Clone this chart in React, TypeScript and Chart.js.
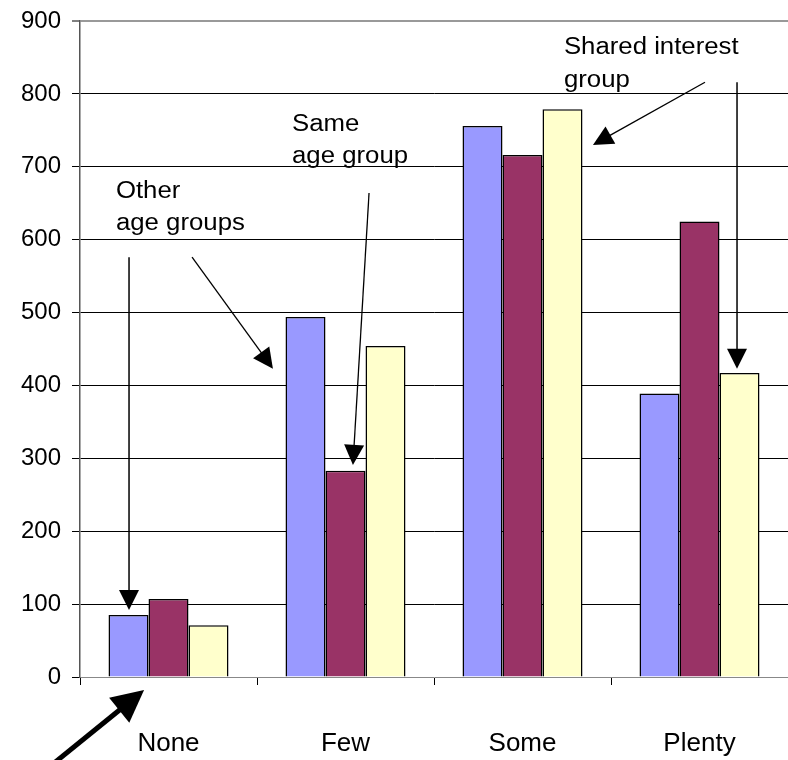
import React, { useEffect, useRef } from 'react';
import { Chart, registerables } from 'chart.js';

Chart.register(...registerables);

// ---- data ----
const categories = ['None', 'Few', 'Some', 'Plenty'];
const otherAgeGroups = [85, 494, 756, 389];
const sameAgeGroup = [107, 283, 716, 625];
const sharedInterestGroup = [71, 454, 779, 417];
const yMin = 0;
const yMax = 900;
const yStep = 100;

// ---- annotations (x in category units, y in value units) ----
const noteTexts = [
  { lines: ['Other', 'age groups'], x: -0.297, y: [657, 613] },
  { lines: ['Same', 'age group'], x: 0.698, y: [749, 705] },
  { lines: ['Shared interest', 'group'], x: 2.234, y: [855, 809] },
];

const noteArrows = [
  { from: [-0.223, 576], to: [-0.223, 92], width: 1.5, head: 20, half: 10 },
  { from: [0.133, 576], to: [0.59, 423], width: 1.3, head: 20, half: 10 },
  { from: [1.133, 664], to: [1.042, 291], width: 1.3, head: 20, half: 10 },
  { from: [3.031, 816], to: [2.398, 730], width: 1.3, head: 20, half: 10 },
  { from: [3.212, 816], to: [3.212, 423], width: 1.5, head: 20, half: 10 },
  { from: [-0.641, -117], to: [-0.138, -18], width: 5, head: 32, half: 16 },
];

const FONT = '"Liberation Sans", Arial, Helvetica, sans-serif';

const notesPlugin = {
  id: 'notes',
  afterDraw(chart: any) {
    const { ctx } = chart;
    const xs = chart.scales.x;
    const ys = chart.scales.y;
    ctx.save();
    ctx.fillStyle = '#000';
    ctx.strokeStyle = '#000';
    ctx.font = `23px ${FONT}`;
    ctx.textAlign = 'left';
    ctx.textBaseline = 'alphabetic';
    for (const t of noteTexts) {
      const px = xs.getPixelForValue(t.x);
      t.lines.forEach((line, i) => {
        const py = ys.getPixelForValue(t.y[i]);
        ctx.save();
        ctx.translate(px, py);
        ctx.scale(1.12, 1);
        ctx.fillText(line, 0, 0);
        ctx.restore();
      });
    }
    ctx.lineCap = 'butt';
    for (const a of noteArrows) {
      const x1 = xs.getPixelForValue(a.from[0]);
      const y1 = ys.getPixelForValue(a.from[1]);
      const x2 = xs.getPixelForValue(a.to[0]);
      const y2 = ys.getPixelForValue(a.to[1]);
      const dx = x2 - x1;
      const dy = y2 - y1;
      const len = Math.hypot(dx, dy) || 1;
      const ux = dx / len;
      const uy = dy / len;
      const bx = x2 - ux * a.head;
      const by = y2 - uy * a.head;
      ctx.lineWidth = a.width;
      ctx.beginPath();
      ctx.moveTo(x1, y1);
      ctx.lineTo(bx + ux * 2, by + uy * 2);
      ctx.stroke();
      ctx.beginPath();
      ctx.moveTo(x2, y2);
      ctx.lineTo(bx - uy * a.half, by + ux * a.half);
      ctx.lineTo(bx + uy * a.half, by - ux * a.half);
      ctx.closePath();
      ctx.fill();
    }
    ctx.restore();
  },
};

export default function App() {
  const canvasRef = useRef<HTMLCanvasElement | null>(null);

  useEffect(() => {
    if (!canvasRef.current) return;
    const common = {
      borderColor: '#000',
      borderWidth: 1.5,
      categoryPercentage: 0.678,
      barPercentage: 1,
    };
    const chart = new Chart(canvasRef.current, {
      type: 'bar',
      data: {
        labels: categories,
        datasets: [
          { label: 'Other age groups', data: otherAgeGroups, backgroundColor: '#9999FF', ...common },
          { label: 'Same age group', data: sameAgeGroup, backgroundColor: '#993366', ...common },
          { label: 'Shared interest group', data: sharedInterestGroup, backgroundColor: '#FFFFCC', ...common },
        ],
      },
      options: {
        animation: false,
        responsive: true,
        maintainAspectRatio: false,
        layout: { padding: { top: 21, right: 0, left: 0, bottom: 0 } },
        plugins: {
          legend: { display: false },
          tooltip: { enabled: false },
        },
        scales: {
          x: {
            grid: {
              offset: true,
              drawOnChartArea: false,
              drawTicks: true,
              tickLength: 8,
              tickColor: '#000',
              tickWidth: 1,
            },
            border: { color: '#888', width: 1 },
            ticks: {
              font: { family: FONT, size: 26 },
              color: '#000',
              padding: 43,
              maxRotation: 0,
            },
            afterFit(scale: any) {
              scale.height = 83;
              scale.paddingLeft = 0;
              scale.paddingRight = 0;
            },
          },
          y: {
            min: yMin,
            max: yMax,
            ticks: {
              stepSize: yStep,
              font: { family: FONT, size: 24 },
              color: '#000',
              padding: 11,
            },
            grid: {
              color: (c: any) =>
                c.tick && c.tick.value === yMax
                  ? '#999'
                  : c.tick && c.tick.value === yMin
                  ? 'rgba(0,0,0,0)'
                  : '#000',
              lineWidth: (c: any) => (c.tick && c.tick.value === yMax ? 2 : 1),
              tickLength: 8,
              tickColor: '#000',
              tickWidth: 1,
            },
            border: { color: '#555', width: 1.5 },
            afterFit(scale: any) {
              scale.width = 80;
              scale.paddingTop = 0;
              scale.paddingBottom = 0;
            },
          },
        },
      },
      plugins: [notesPlugin],
    });
    return () => chart.destroy();
  }, []);

  return (
    <div style={{ position: 'absolute', left: 0, top: 0, width: 788, height: 760, background: '#fff' }}>
      <canvas ref={canvasRef} />
    </div>
  );
}
